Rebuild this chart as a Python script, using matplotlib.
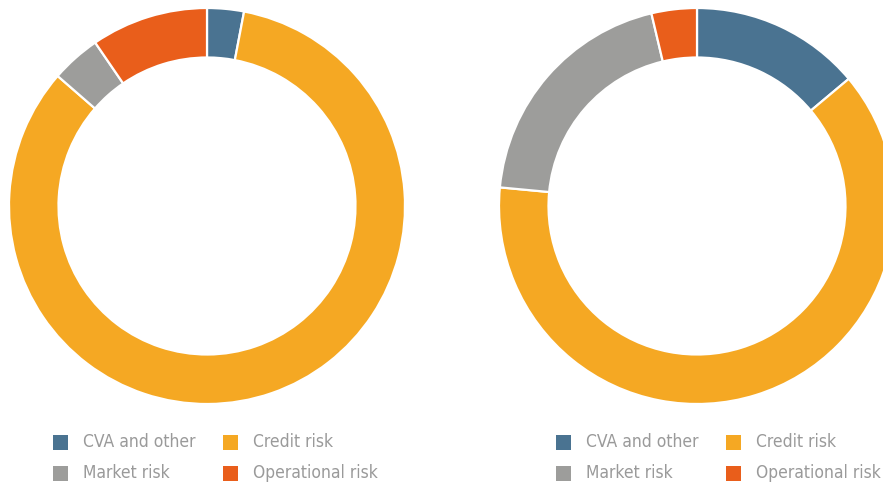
import matplotlib
matplotlib.use("Agg")
import matplotlib.pyplot as plt
from matplotlib.patches import Rectangle

categories = ["CVA and other", "Credit risk", "Market risk", "Operational risk"]
left_values = [3.0, 83.4, 4.05, 9.55]
right_values = [13.9, 62.6, 19.8, 3.7]
colors = ["#4a7391", "#f5a823", "#9d9d9b", "#e95e1b"]

W, H = 883, 491
fig = plt.figure(figsize=(W / 100, H / 100), dpi=100)

R = 198
def donut(cx, cy, values):
    ax = fig.add_axes([(cx - R) / W, (H - cy - R) / H, 2 * R / W, 2 * R / H])
    ax.pie(values, colors=colors, startangle=90, counterclock=False, radius=1.0,
           wedgeprops=dict(width=0.25, edgecolor="white", linewidth=1.6))
    ax.set_xlim(-1, 1)
    ax.set_ylim(-1, 1)
    ax.set_aspect("equal")
    ax.axis("off")
    return ax

donut(207, 206, left_values)
donut(697, 206, right_values)

def legend(x0, x1):
    order = [(0, x0, 442), (2, x0, 473), (1, x1, 442), (3, x1, 473)]
    for idx, x, y in order:
        fig.add_artist(Rectangle((x / W, (H - y - 7.5) / H), 15 / W, 15 / H,
                                 transform=fig.transFigure, facecolor=colors[idx],
                                 edgecolor="none"))
        fig.text((x + 30) / W, (H - y) / H, categories[idx], fontsize=12.5,
                 color="#9a9a9a", va="center", ha="left",
                 family="DejaVu Sans", fontstretch="condensed")

legend(53, 223)
legend(556, 726)

fig.savefig("out.png", dpi=100)
